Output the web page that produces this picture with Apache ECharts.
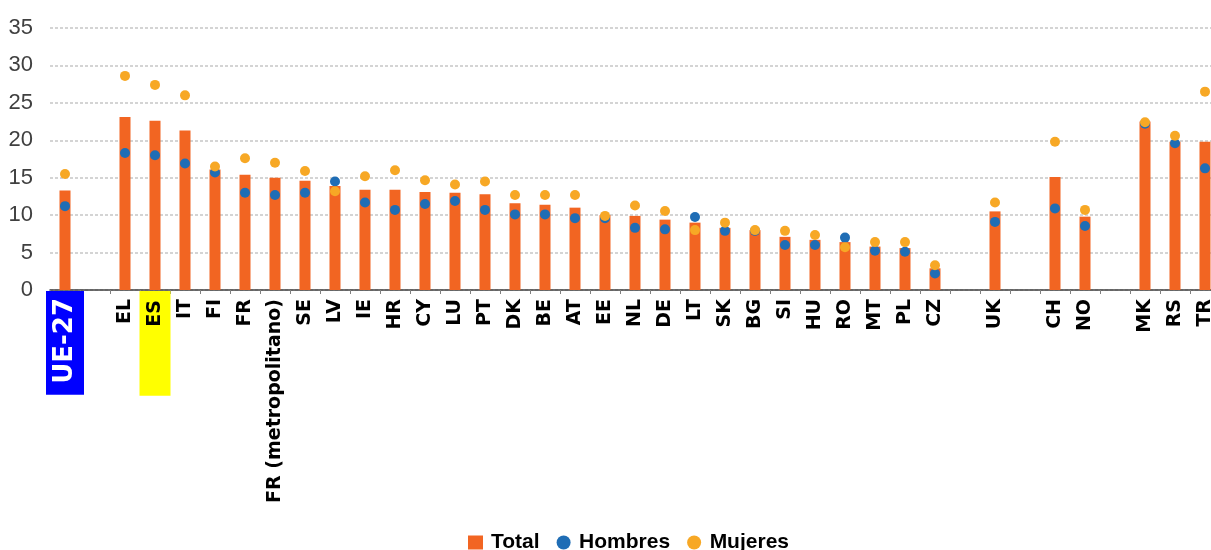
<!DOCTYPE html>
<html>
<head>
<meta charset="utf-8">
<script src="https://cdn.jsdelivr.net/npm/echarts@6/dist/echarts.min.js"></script>
<style>
html,body{margin:0;padding:0;background:#fff;}
#chart{width:1211px;height:550px;}
</style>
</head>
<body>
<div id="chart"></div>
<script>
var categories = ['UE-27',' ','EL','ES','IT','FI','FR','FR (metropolitano)','SE','LV','IE','HR','CY','LU','PT','DK','BE','AT','EE','NL','DE','LT','SK','BG','SI','HU','RO','MT','PL','CZ','  ','UK','   ','CH','NO','    ','MK','RS','TR'];
var total = [13.3,null,23.1,22.6,21.3,16.1,15.4,15.0,14.6,13.9,13.4,13.4,13.1,13.0,12.8,11.6,11.4,11.0,10.0,9.9,9.4,9.0,8.3,8.0,7.1,6.7,6.4,5.8,5.6,2.9,null,10.5,null,15.1,9.8,null,22.5,19.8,19.8];
var hombres = [11.2,null,18.3,18.0,16.9,15.7,13.0,12.7,13.0,14.5,11.7,10.7,11.5,11.9,10.7,10.1,10.1,9.6,9.6,8.3,8.1,9.75,7.9,7.9,6.0,6.0,7.0,5.25,5.1,2.2,null,9.1,null,10.9,8.55,null,22.2,19.6,16.25];
var mujeres = [15.5,null,28.6,27.4,26.0,16.5,17.6,17.0,15.9,13.2,15.2,16.0,14.65,14.1,14.5,12.7,12.7,12.7,9.9,11.3,10.55,8.0,9.0,8.0,7.9,7.35,5.7,6.4,6.4,3.3,null,11.7,null,19.8,10.7,null,22.4,20.6,26.5];
var yTicks = {min:0, max:35, interval:5};

var chart = echarts.init(document.getElementById('chart'));
chart.setOption({
  animation:false,
  backgroundColor:'#fff',
  grid:{left:50, width:1170, top:28, bottom:260, outerBoundsMode:'none', containLabel:false},
  legend:{
    left:463, top:527, itemWidth:15, itemHeight:14, itemGap:17,
    textStyle:{fontFamily:'Liberation Sans, Arial, sans-serif', fontWeight:'bold', fontSize:21, color:'#000', padding:[0,0,0,3]},
    data:[{name:'Total', icon:'rect'},{name:'Hombres', icon:'circle'},{name:'Mujeres', icon:'circle'}]
  },
  xAxis:{
    type:'category',
    data:categories,
    boundaryGap:true,
    axisLine:{lineStyle:{color:'#404040', width:1.5}},
    axisTick:{show:true, length:4, lineStyle:{color:'#808080'}},
    axisLabel:{
      interval:0, rotate:90, margin:1,
      fontFamily:'DejaVu Sans, sans-serif', fontWeight:'bold', fontSize:19, color:'#000',
      formatter:function(v){
        if(v==='UE-27') return '{ue|'+v+'}';
        if(v==='ES') return '{es|'+v+'}';
        return '{n|'+v+'}';
      },
      rich:{
        n:{fontFamily:'DejaVu Sans, sans-serif', fontWeight:'bold', fontSize:19, color:'#000', padding:[0,8,0,0]},
        ue:{fontFamily:'DejaVu Sans, sans-serif', fontWeight:'bold', fontSize:26, color:'#fff', backgroundColor:'#0000ff', lineHeight:28, padding:[6,7,6,11]},
        es:{fontFamily:'DejaVu Sans, sans-serif', fontWeight:'bold', fontSize:19, color:'#000', backgroundColor:'#ffff00', lineHeight:18, padding:[6,9,6,69]}
      }
    }
  },
  yAxis:{
    type:'value', min:yTicks.min, max:yTicks.max, interval:yTicks.interval,
    axisLine:{show:false}, axisTick:{show:false},
    axisLabel:{margin:17, fontFamily:'Liberation Sans, Arial, sans-serif', fontSize:22, color:'#404040'},
    splitLine:{lineStyle:{color:'#c6c6c6', width:1.5, type:[3,2]}}
  },
  series:[
    {name:'Total', type:'bar', data:total, barWidth:11, itemStyle:{color:'#F26522'}},
    {name:'Hombres', type:'scatter', data:hombres, symbol:'circle', symbolSize:10, itemStyle:{color:'#1F6DB5', opacity:1}},
    {name:'Mujeres', type:'scatter', data:mujeres, symbol:'circle', symbolSize:10, itemStyle:{color:'#F7A825', opacity:1}}
  ]
});
</script>
</body>
</html>
